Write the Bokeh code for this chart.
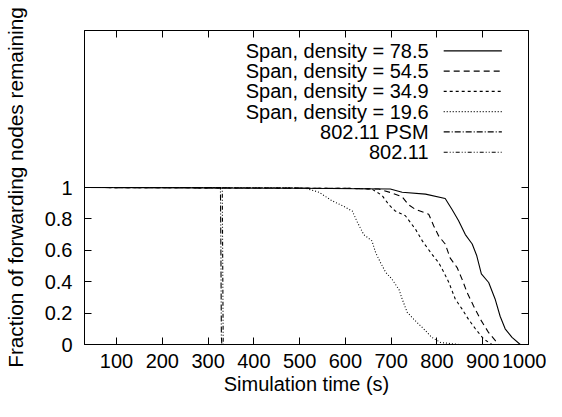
from bokeh.plotting import figure
from bokeh.models import Range1d, LinearAxis, FixedTicker
from bokeh.embed import file_html
from bokeh.resources import INLINE
from bokeh.core.properties import value

# ---------------- data ----------------
series_labels = ["Span, density = 78.5", "Span, density = 54.5", "Span, density = 34.9",
                 "Span, density = 19.6", "802.11 PSM", "802.11"]

time_785 = [30, 500, 698, 724, 775, 818, 833, 847, 862, 877, 887, 897, 913, 927, 938, 949, 964, 982]
frac_785 = [1, 0.995, 0.99, 0.97, 0.958, 0.93, 0.86, 0.79, 0.70, 0.64, 0.565, 0.45, 0.395, 0.29, 0.18, 0.10, 0.045, 0.0]

time_545 = [30, 600, 673, 702, 724, 738, 753, 782, 793, 804, 818, 829, 844, 855, 866, 880, 895, 913, 935]
frac_545 = [1, 0.995, 0.99, 0.965, 0.94, 0.89, 0.86, 0.83, 0.755, 0.69, 0.64, 0.55, 0.49, 0.415, 0.33, 0.245, 0.16, 0.075, 0.0]

time_349 = [30, 600, 658, 680, 695, 709, 731, 753, 768, 789, 804, 815, 826, 840, 855, 869, 884, 902, 920]
frac_349 = [1, 0.995, 0.99, 0.95, 0.89, 0.85, 0.82, 0.735, 0.66, 0.575, 0.52, 0.46, 0.395, 0.29, 0.225, 0.16, 0.10, 0.035, 0.0]

time_196 = [30, 480, 513, 542, 571, 593, 615, 626, 640, 658, 666, 677, 688, 702, 717, 724, 735, 753, 771, 789, 808, 848]
frac_196 = [1, 1, 0.995, 0.97, 0.915, 0.885, 0.85, 0.78, 0.70, 0.66, 0.585, 0.52, 0.46, 0.415, 0.35, 0.29, 0.205, 0.15, 0.10, 0.045, 0.013, 0.0]

time_psm = [30, 327, 328, 329, 330]
frac_psm = [1, 1, 0.6, 0.05, 0.0]

time_80211 = [30, 331, 332, 333]
frac_80211 = [1, 1, 0.5, 0.0]

x_ticks = [100, 200, 300, 400, 500, 600, 700, 800, 900, 1000]
y_ticks = [0, 0.2, 0.4, 0.6, 0.8, 1]
y_tick_labels = ["0", "0.2", "0.4", "0.6", "0.8", "1"]

# ---------------- styling ----------------
FONT = "Liberation Sans"
FS = "20px"
dashes = ["solid", "6 4", "3 3", "1 2", "6 2 1 2", "4 2 1 2 1 2"]

X0, X1 = 30, 1000
Y0, Y1 = 0, 2

p = figure(width=546, height=401, output_backend="svg", toolbar_location=None,
           x_range=Range1d(X0, X1), y_range=Range1d(Y0, Y1),
           min_border_left=84, min_border_right=18, min_border_top=30, min_border_bottom=57)
p.grid.visible = False
p.outline_line_color = "black"
p.outline_line_width = 1
p.background_fill_color = "white"
p.border_fill_color = "white"

series = [(time_785, frac_785), (time_545, frac_545), (time_349, frac_349),
          (time_196, frac_196), (time_psm, frac_psm), (time_80211, frac_80211)]
for (t, f), d in zip(series, dashes):
    p.line(t, f, line_color="black", line_width=1.1, line_dash=d)

def style_axis(ax, labels=True):
    ax.axis_line_color = "black"
    ax.major_tick_line_color = "black"
    ax.major_tick_in = 7
    ax.major_tick_out = 0
    ax.minor_tick_line_color = None
    ax.major_label_text_font = FONT
    ax.axis_label_text_font = FONT
    ax.axis_label_text_font_style = "normal"
    ax.axis_label_text_font_size = FS
    ax.axis_label_text_color = "black"
    if labels:
        ax.major_label_text_font_size = FS
        ax.major_label_text_color = "black"
    else:
        ax.major_label_text_font_size = "1px"
        ax.major_label_text_color = None
        ax.major_label_standoff = 0

xa = p.xaxis[0]
xa.ticker = FixedTicker(ticks=x_ticks)
xa.axis_label = "Simulation time (s)"
style_axis(xa)
xa.major_label_standoff = 9
xa.axis_label_standoff = 2

ya = p.yaxis[0]
ya.ticker = FixedTicker(ticks=y_ticks)
ya.major_label_overrides = {t: l for t, l in zip(y_ticks, y_tick_labels)}
ya.axis_label = "Fraction of forwarding nodes remaining"
style_axis(ya)
ya.axis_label_text_font_size = "20.8px"
ya.major_label_standoff = 12
ya.axis_label_standoff = 15

top = LinearAxis(ticker=FixedTicker(ticks=x_ticks))
style_axis(top, labels=False)
p.add_layout(top, "above")
right = LinearAxis(ticker=FixedTicker(ticks=y_ticks))
style_axis(right, labels=False)
p.add_layout(right, "right")

# ---------------- key (gnuplot style: label then sample) ----------------
xs = X1 - X0
text_x = X0 + 0.775 * xs
seg_x0 = X0 + 0.809 * xs
seg_x1 = X0 + 0.940 * xs
row0 = Y0 + 0.935 * (Y1 - Y0)
row_step = 0.0645 * (Y1 - Y0)
for i, (lab, d) in enumerate(zip(series_labels, dashes)):
    yy = row0 - i * row_step
    p.text(x=[text_x], y=[yy], text=[lab], text_align="right", text_baseline="middle",
           text_font=value(FONT), text_font_size=FS, text_color="black")
    p.segment(x0=[seg_x0], y0=[yy], x1=[seg_x1], y1=[yy], line_color="black",
              line_width=1.1, line_dash=d)

open("out.html", "w").write(file_html(p, INLINE))
